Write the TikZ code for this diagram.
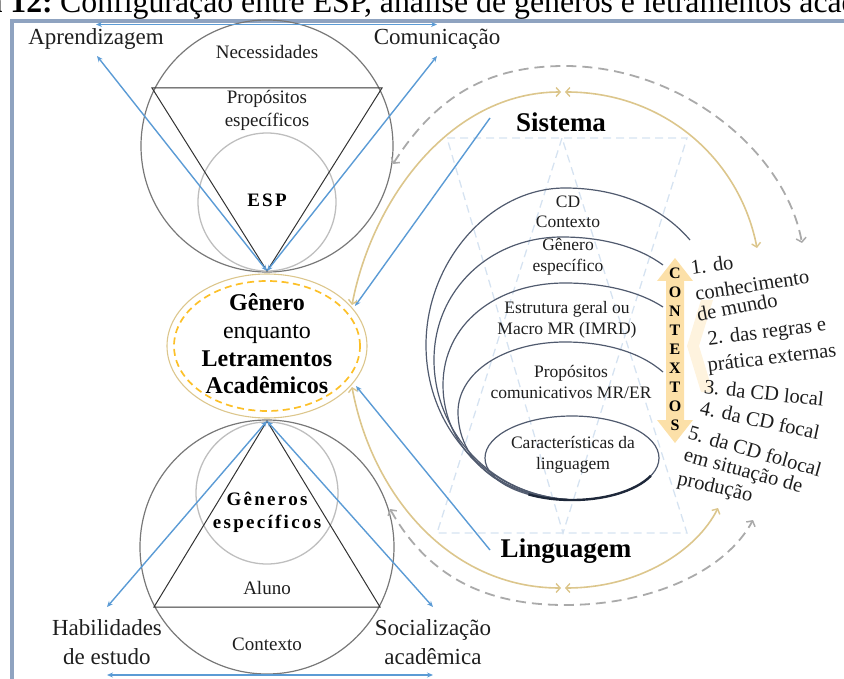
\documentclass[tikz,border=0pt]{standalone}
\usepackage{fontspec}
\setmainfont{Liberation Serif}
\usetikzlibrary{arrows.meta}

\definecolor{framecol}{RGB}{143,163,192}
\definecolor{arrblue}{RGB}{91,155,213}
\definecolor{circdark}{RGB}{120,120,120}
\definecolor{circlight}{RGB}{190,190,190}
\definecolor{tricol}{RGB}{50,50,50}
\definecolor{tanc}{RGB}{220,198,140}
\definecolor{goldc}{RGB}{252,192,40}
\definecolor{dashgray}{RGB}{170,170,170}
\definecolor{slate}{RGB}{80,90,110}
\definecolor{slatedark}{RGB}{30,40,58}
\definecolor{faintblue}{RGB}{214,227,241}
\definecolor{ctxfill}{RGB}{252,224,168}
\definecolor{ctxfaint}{RGB}{254,243,222}
\definecolor{txt}{RGB}{30,30,30}

\begin{document}
\begin{tikzpicture}[x=1pt,y=-1pt,
  lbl/.style={font=\fontsize{23}{29}\selectfont, align=center, inner sep=0pt, text=txt},
  intext/.style={font=\fontsize{19}{23}\selectfont, align=center, inner sep=0pt, text=txt},
  arctext/.style={font=\fontsize{17.5}{20.5}\selectfont, align=center, inner sep=0pt, text=txt},
  listtext/.style={font=\fontsize{20.5}{22}\selectfont, inner sep=0pt, text=txt},
  bigbold/.style={font=\fontsize{27}{30}\selectfont\bfseries, inner sep=0pt},
  outercirc/.style={draw=circdark, line width=1.2pt},
  innercirc/.style={draw=circlight, line width=1.3pt},
  tri/.style={draw=tricol, line width=1pt},
  bluearr/.style={draw=arrblue, line width=1.4pt,
    {Stealth[length=6pt,width=5pt]}-{Stealth[length=6pt,width=5pt]}},
  bluein/.style={draw=arrblue, line width=1.4pt, -{Stealth[length=6pt,width=5pt]}},
  tanarr/.style={draw=tanc, line width=1.6pt,
    {Straight Barb[length=4pt,width=9pt,line width=1.4pt]}-{Straight Barb[length=4pt,width=9pt,line width=1.4pt]}},
  grayarr/.style={draw=dashgray, line width=1.8pt, dash pattern=on 10pt off 6pt,
    {Straight Barb[length=4pt,width=10pt,line width=1.5pt]}-{Straight Barb[length=4pt,width=10pt,line width=1.5pt]}},
  nest/.style={draw=slate, line width=1.2pt},
  faint/.style={draw=faintblue, line width=1.3pt, dash pattern=on 8pt off 5pt},
  ctxletter/.style={font=\fontsize{16}{16}\selectfont\bfseries, inner sep=0pt, text=black}
]
\useasboundingbox (0,0) rectangle (844,679);
\clip (0,0) rectangle (844,679);

% caption line, cut by the upper page edge
\node[anchor=base west, font=\fontsize{31.8}{34}\selectfont, inner sep=0pt] (caption) at (60,13)
  {Configuração entre ESP, análise de gêneros e letramentos acadêmicos};
\node[anchor=base east, font=\fontsize{31.8}{34}\selectfont\bfseries, inner sep=0pt] (capnum) at (53,13) {Figura 12:};

% frame
\draw[draw=framecol, line width=3.5pt] (12,21) rectangle (900,720);

% faint background triangles
\draw[faint] (447,138) -- (687,138) -- (563,533) -- cycle;
\draw[faint] (562,138) -- (437,533) -- (687,533) -- cycle;

% ---------- upper circle (ESP) ----------
\coordinate (topC) at (267,146);
\coordinate (apexT) at (267,271);
\draw[outercirc] (topC) circle[radius=126pt];
\draw[innercirc] (267,202) circle[radius=69pt];
\draw[tri] (152,88) -- (382,88) -- (apexT) -- cycle;
\node[intext] (necess) at (267,52) {Necessidades};
\node[intext] (propos) at (267,110) {Propósitos\\específicos};
\node[font=\fontsize{19}{22}\selectfont\bfseries\addfontfeature{LetterSpace=12}, inner sep=0pt] (esp) at (267,200) {ESP};

\node[lbl] (aprend) at (96,39) {Aprendizagem};
\node[lbl] (comun) at (437,39) {Comunicação};
\coordinate (aprTip) at (97,56);
\coordinate (comTip) at (437,56);
\coordinate (topL) at (96,24.5);
\coordinate (topR) at (437,24.5);
\draw[bluearr] (topL) -- (topR);
\draw[bluearr] (apexT) -- (aprTip);
\draw[bluearr] (apexT) -- (comTip);

% ---------- central ellipse ----------
\coordinate (genC) at (267,346);
\draw[draw=tanc, line width=1.1pt] (genC) ellipse[x radius=100pt, y radius=72pt];
\draw[draw=goldc, line width=1.7pt, dash pattern=on 7pt off 4.5pt] (genC) ellipse[x radius=93pt, y radius=65pt];
\node[font=\fontsize{24}{27.7}\selectfont, align=center, inner sep=0pt, text=black] (genero) at (267,344)
  {\textbf{Gênero}\\enquanto\\\textbf{Letramentos}\\\textbf{Acadêmicos}};

% ---------- lower circle (gêneros específicos) ----------
\coordinate (botC) at (267,547);
\coordinate (apexB) at (267,421);
\draw[outercirc] (botC) circle[radius=127pt];
\draw[innercirc] (267,493) circle[radius=71pt];
\draw[tri] (apexB) -- (380,607) -- (154,607) -- cycle;
\node[font=\fontsize{19}{23}\selectfont\bfseries\addfontfeature{LetterSpace=12}, align=center, inner sep=0pt] (genesp) at (267,512) {Gêneros\\específicos};
\node[intext] (aluno) at (267,588) {Aluno};
\node[intext] (contexto) at (267,644) {Contexto};

\node[lbl] (habil) at (107,642) {Habilidades\\de estudo};
\node[lbl] (social) at (433,642) {Socialização\\acadêmica};
\coordinate (habTip) at (107,607);
\coordinate (socTip) at (433,607);
\coordinate (botL) at (107,675);
\coordinate (botR) at (433,675);
\draw[bluearr] (apexB) -- (habTip);
\draw[bluearr] (apexB) -- (socTip);
\draw[bluearr] (botL) -- (botR);

% ---------- Sistema / Linguagem ----------
\node[bigbold] (sistema) at (561,122) {Sistema};
\node[bigbold] (linguagem) at (566,551) {Linguagem};
\coordinate (sisTail) at (490,118);
\coordinate (sisTip) at (355,306);
\coordinate (linTail) at (490,550);
\coordinate (linTip) at (356,386);
\draw[bluein] (sisTail) -- (sisTip);
\draw[bluein] (linTail) -- (linTip);

% tan arcs
\coordinate (tanA) at (352,305);
\coordinate (tanTopL) at (561,92);
\coordinate (tanTopR) at (565,92);
\coordinate (tanB) at (757,248);
\coordinate (tanC) at (352,387);
\coordinate (tanBotL) at (561,588);
\coordinate (tanBotR) at (565,588);
\coordinate (tanD) at (718,508);
\draw[tanarr] (tanA) .. controls (372,200) and (450,92) .. (tanTopL);
\draw[tanarr] (tanTopR) .. controls (665,92) and (740,160) .. (tanB);
\draw[tanarr] (tanC) .. controls (372,495) and (450,588) .. (tanBotL);
\draw[tanarr] (tanBotR) .. controls (640,588) and (697,550) .. (tanD);

% gray dashed arcs
\coordinate (grA) at (393,164);
\coordinate (grB) at (802,243);
\coordinate (grC) at (390,509);
\coordinate (grD) at (753,520);
\draw[grayarr] (grA) .. controls (440,90) and (495,66) .. (565,66)
  .. controls (680,66) and (785,150) .. (grB);
\draw[grayarr] (grC) .. controls (430,580) and (490,605) .. (565,605)
  .. controls (650,605) and (725,572) .. (grD);

% ---------- nested arcs ----------
\coordinate (conv) at (580,500);
\draw[nest] (690,240) .. controls (660,205) and (615,188) .. (565,188)
  .. controls (490,188) and (426,262) .. (426,345)
  .. controls (426,430) and (490,500) .. (conv);
\draw[nest] (663,265) .. controls (640,248) and (605,237) .. (562,237)
  .. controls (490,237) and (434,290) .. (434,360)
  .. controls (434,432) and (492,500) .. (conv);
\draw[nest] (663,307) .. controls (640,292) and (605,283) .. (565,283)
  .. controls (495,283) and (443,325) .. (443,385)
  .. controls (443,447) and (495,500) .. (conv);
\draw[nest] (663,372) .. controls (640,352) and (605,342) .. (565,342)
  .. controls (505,342) and (458,372) .. (458,412)
  .. controls (458,460) and (500,500) .. (conv);
\draw[nest] (572,458) ellipse[x radius=87pt, y radius=42pt];
\draw[draw=slatedark, line width=2.4pt] (528.5,494.4) arc[start angle=240, end angle=335, x radius=87pt, y radius=42pt];

\node[arctext] (cd) at (568,212) {CD\\Contexto};
\node[arctext] (genarc) at (568,257) {Gênero\\específico};
\node[arctext] (estr) at (567,320) {Estrutura geral ou\\Macro MR (IMRD)};
\node[arctext] (propc) at (571,382) {Propósitos\\comunicativos MR/ER};
\node[arctext] (carac) at (573,455) {Características da\\linguagem};

% ---------- CONTEXTOS arrow ----------
\fill[ctxfaint] (713,300) -- (701,300) -- (687,346) -- (701,392) -- (713,392) -- (699,346) -- cycle;
\fill[ctxfill] (675,258) -- (693,281) -- (684,281) -- (684,420) -- (693,420) -- (675,443)
  -- (657,420) -- (666,420) -- (666,281) -- (657,281) -- cycle;
\foreach \L [count=\i] in {C,O,N,T,E,X,T,O,S}
  \node[ctxletter] (ctx\i) at (675,{254+19*\i}) {\L};

% ---------- list of contexts ----------
\node[listtext, rotate=8] (l1a) at (712,265) {1. do};
\node[listtext, rotate=9] (l1b) at (752,285) {conhecimento};
\node[listtext, rotate=11] (l1c) at (737,307) {de mundo};
\node[listtext, rotate=7] (l2a) at (767,333) {2. das regras e};
\node[listtext, rotate=7] (l2b) at (772,359) {prática externas};
\node[listtext, rotate=-6] (l3) at (764,393) {3. da CD local};
\node[listtext, rotate=-12] (l4) at (760,420) {4. da CD focal};
\node[listtext, rotate=-16] (l5a) at (755,451) {5. da CD folocal};
\node[listtext, rotate=-15] (l5b) at (743,472) {em situação de};
\node[listtext, rotate=-13] (l5c) at (715,488) {produção};
\end{tikzpicture}
\end{document}
